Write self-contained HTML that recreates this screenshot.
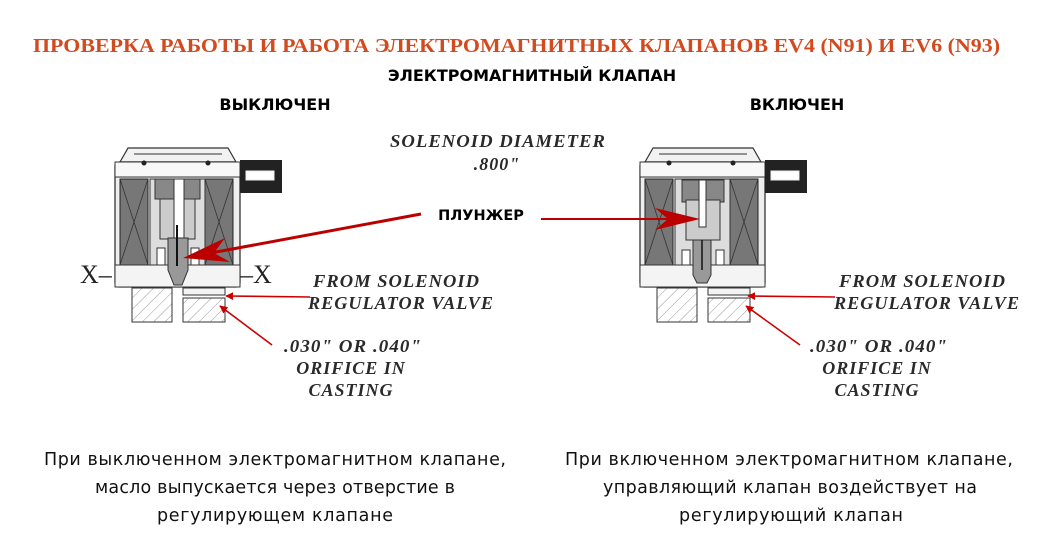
<!DOCTYPE html>
<html><head><meta charset="utf-8"><style>
body{margin:0;width:1045px;height:544px;background:#fff;overflow:hidden;font-family:"Liberation Sans","DejaVu Sans",sans-serif}
svg{position:absolute;left:0;top:0}
.t{font-family:"DejaVu Sans","Liberation Sans",sans-serif}
.s{font-family:"Liberation Serif",serif;font-style:italic;font-weight:bold;fill:#2a2a2a;font-size:18px;letter-spacing:1px}
</style></head><body>
<svg width="1045" height="544" viewBox="0 0 1045 544">
<defs>
<pattern id="h" width="8" height="8" patternUnits="userSpaceOnUse" patternTransform="rotate(45)"><rect width="8" height="8" fill="#fff"/><line x1="0" y1="0" x2="0" y2="8" stroke="#999" stroke-width="1"/></pattern>
<g id="sol">
<path d="M120 162 L128 148 L228 148 L236 162 Z" fill="#f2f2f2" stroke="#333" stroke-width="1.2"/>
<line x1="134" y1="154" x2="222" y2="154" stroke="#333"/>
<rect x="115" y="162" width="125" height="125" rx="4" fill="#eee" stroke="#333" stroke-width="1.3"/>
<rect x="115" y="162" width="125" height="15" fill="#f8f8f8" stroke="#333"/>
<circle cx="144" cy="163" r="2.5" fill="#222"/><circle cx="208" cy="163" r="2.5" fill="#222"/>
<rect x="120" y="179" width="28" height="86" fill="#777" stroke="#222"/>
<path d="M120 179 L148 265 M148 179 L120 265" stroke="#333" stroke-width="0.8"/>
<rect x="205" y="179" width="28" height="86" fill="#777" stroke="#222"/>
<path d="M205 179 L233 265 M233 179 L205 265" stroke="#333" stroke-width="0.8"/>
<rect x="115" y="265" width="125" height="22" fill="#f4f4f4" stroke="#333"/>
<rect x="240" y="160" width="42" height="33" fill="#222"/>
<rect x="246" y="171" width="28" height="9" fill="#fff" stroke="#eee"/>
<rect x="132" y="288" width="40" height="34" fill="url(#h)" stroke="#333"/>
<rect x="183" y="288" width="42" height="7" fill="#f4f4f4" stroke="#333"/>
<rect x="183" y="298" width="42" height="24" fill="url(#h)" stroke="#333"/>
</g>
<marker id="a" viewBox="0 0 10 10" refX="9" refY="5" markerWidth="5" markerHeight="5" orient="auto"><path d="M0 0 L10 5 L0 10 Z" fill="#c00"/></marker>
</defs>
<text x="33" y="52" textLength="967" lengthAdjust="spacingAndGlyphs" font-family="Liberation Serif,serif" font-weight="bold" font-size="20" fill="#d24a1e">ПРОВЕРКА РАБОТЫ И РАБОТА ЭЛЕКТРОМАГНИТНЫХ КЛАПАНОВ EV4 (N91) И EV6 (N93)</text>
<text class="t" x="532" y="81" text-anchor="middle" font-weight="bold" font-size="16">ЭЛЕКТРОМАГНИТНЫЙ КЛАПАН</text>
<text class="t" x="275" y="110" text-anchor="middle" font-weight="bold" font-size="16">ВЫКЛЮЧЕН</text>
<text class="t" x="797" y="110" text-anchor="middle" font-weight="bold" font-size="16">ВКЛЮЧЕН</text>
<text class="s" x="390" y="147" textLength="216" lengthAdjust="spacingAndGlyphs">SOLENOID DIAMETER</text>
<text class="s" x="497" y="170" text-anchor="middle">.800"</text>
<use href="#sol"/>
<g stroke="#333" stroke-width="1">
<rect x="150" y="179" width="55" height="86" fill="#ddd"/>
<rect x="155" y="179" width="45" height="20" fill="#888"/>
<rect x="160" y="199" width="35" height="40" fill="#ccc"/>
<rect x="174" y="179" width="10" height="60" fill="#fff"/>
<path d="M168 238 L188 238 L188 270 L182 285 L174 285 L168 270 Z" fill="#999"/>
<line x1="177" y1="225" x2="177" y2="266" stroke="#111" stroke-width="2"/>
<rect x="157" y="248" width="8" height="17" fill="#fff"/><rect x="191" y="248" width="8" height="17" fill="#fff"/>
</g>
<text x="80" y="283" font-family="Liberation Serif,serif" font-size="26" fill="#222">X–</text>
<text x="240" y="283" font-family="Liberation Serif,serif" font-size="26" fill="#222">–X</text>
<use href="#sol" x="525"/>
<g stroke="#333" stroke-width="1">
<rect x="675" y="179" width="55" height="86" fill="#ddd"/>
<rect x="682" y="180" width="42" height="22" fill="#888"/>
<rect x="686" y="200" width="34" height="40" fill="#ccc"/>
<rect x="699" y="180" width="7" height="47" fill="#fff"/>
<path d="M693 240 L711 240 L711 275 L707 283 L697 283 L693 275 Z" fill="#999"/>
<line x1="702" y1="240" x2="702" y2="270" stroke="#111" stroke-width="1.5"/>
<rect x="682" y="250" width="8" height="15" fill="#fff"/><rect x="716" y="250" width="8" height="15" fill="#fff"/>
</g>
<text class="t" x="481" y="220" text-anchor="middle" font-weight="bold" font-size="14.5">ПЛУНЖЕР</text>
<line x1="421" y1="214" x2="200" y2="255" stroke="#b00" stroke-width="3"/>
<path d="M183 258 L225 238 L214 253 L230 262 Z" fill="#b00"/>
<line x1="541" y1="219" x2="680" y2="219" stroke="#b00" stroke-width="2"/>
<path d="M700 219 L655 208 L668 219 L655 230 Z" fill="#b00"/>
<g stroke="#c00" stroke-width="1.6" marker-end="url(#a)">
<line x1="310" y1="297" x2="226" y2="296"/>
<line x1="272" y1="345" x2="220" y2="306"/>
<line x1="835" y1="297" x2="748" y2="296"/>
<line x1="800" y1="345" x2="746" y2="306"/>
</g>
<text class="s" x="313" y="287" textLength="167" lengthAdjust="spacingAndGlyphs">FROM SOLENOID</text>
<text class="s" x="308" y="309" textLength="186" lengthAdjust="spacingAndGlyphs">REGULATOR VALVE</text>
<text class="s" x="284" y="352" textLength="138" lengthAdjust="spacingAndGlyphs">.030"  OR .040"</text>
<text class="s" x="351" y="374" text-anchor="middle">ORIFICE IN</text>
<text class="s" x="351" y="396" text-anchor="middle">CASTING</text>
<text class="s" x="839" y="287" textLength="167" lengthAdjust="spacingAndGlyphs">FROM SOLENOID</text>
<text class="s" x="834" y="309" textLength="186" lengthAdjust="spacingAndGlyphs">REGULATOR VALVE</text>
<text class="s" x="810" y="352" textLength="138" lengthAdjust="spacingAndGlyphs">.030"  OR .040"</text>
<text class="s" x="877" y="374" text-anchor="middle">ORIFICE IN</text>
<text class="s" x="877" y="396" text-anchor="middle">CASTING</text>
<g class="t" font-size="17.5" fill="#111" lengthAdjust="spacingAndGlyphs">
<text x="44" y="465" textLength="462">При выключенном электромагнитном клапане,</text>
<text x="95" y="493" textLength="360">масло выпускается через отверстие в</text>
<text x="157" y="521" textLength="236">регулирующем клапане</text>
<text x="565" y="465" textLength="448">При включенном электромагнитном клапане,</text>
<text x="603" y="493" textLength="374">управляющий клапан воздействует на</text>
<text x="679" y="521" textLength="224">регулирующий клапан</text>
</g>
</svg>
</body></html>
